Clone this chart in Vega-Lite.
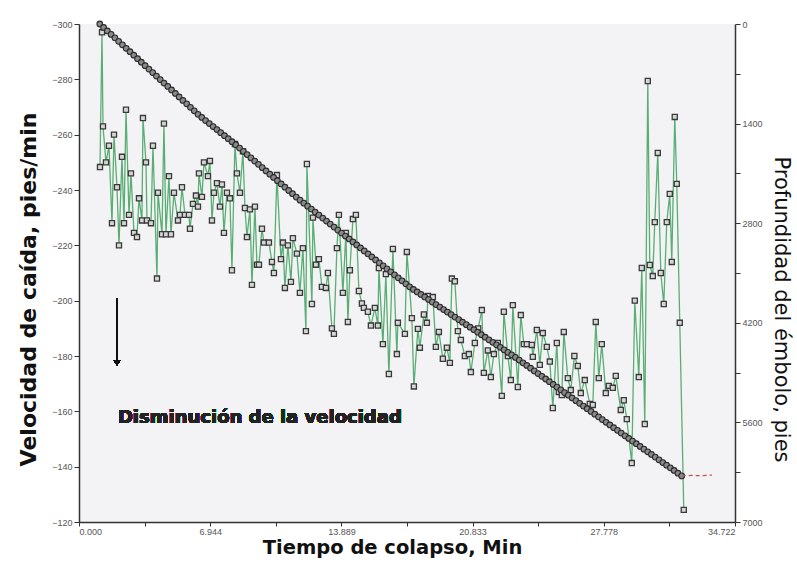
{
  "$schema": "https://vega.github.io/schema/vega-lite/v6.json",
  "width": 656,
  "height": 498,
  "autosize": "none",
  "padding": {"left": 79, "top": 24, "right": 62, "bottom": 43},
  "background": "#ffffff",
  "config": {
    "view": {"fill": "#f3f3f5", "stroke": null},
    "axis": {
      "grid": false,
      "domainColor": "#333333",
      "domainWidth": 1.5,
      "tickColor": "#333333",
      "tickSize": 5,
      "labelFont": "Liberation Sans",
      "labelFontSize": 9,
      "labelColor": "#555555",
      "titleFont": "DejaVu Sans",
      "titleFontWeight": "bold",
      "titleColor": "#111111",
      "titleFontSize": 22
    }
  },
  "datasets": {
    "vel": [
      {"t": 1.111, "v": -248.3}, {"t": 1.217, "v": -297}, {"t": 1.270, "v": -263}, {"t": 1.429, "v": -250},
      {"t": 1.587, "v": -256}, {"t": 1.746, "v": -228}, {"t": 1.852, "v": -260}, {"t": 2.011, "v": -241},
      {"t": 2.116, "v": -220}, {"t": 2.275, "v": -252}, {"t": 2.381, "v": -228}, {"t": 2.487, "v": -269},
      {"t": 2.646, "v": -231}, {"t": 2.751, "v": -246}, {"t": 2.910, "v": -224.5}, {"t": 3.069, "v": -223},
      {"t": 3.175, "v": -237}, {"t": 3.333, "v": -229}, {"t": 3.386, "v": -266}, {"t": 3.545, "v": -250},
      {"t": 3.598, "v": -229}, {"t": 3.810, "v": -228}, {"t": 3.915, "v": -256}, {"t": 4.127, "v": -208},
      {"t": 4.180, "v": -239}, {"t": 4.392, "v": -224}, {"t": 4.497, "v": -264}, {"t": 4.603, "v": -224},
      {"t": 4.762, "v": -245}, {"t": 4.868, "v": -224}, {"t": 5.026, "v": -239}, {"t": 5.238, "v": -229},
      {"t": 5.344, "v": -231}, {"t": 5.450, "v": -241}, {"t": 5.608, "v": -231}, {"t": 5.820, "v": -231},
      {"t": 5.873, "v": -226}, {"t": 6.032, "v": -235}, {"t": 6.190, "v": -238}, {"t": 6.296, "v": -234},
      {"t": 6.349, "v": -246}, {"t": 6.508, "v": -237.5}, {"t": 6.614, "v": -250}, {"t": 6.825, "v": -245},
      {"t": 6.931, "v": -250.5}, {"t": 7.037, "v": -229}, {"t": 7.143, "v": -239}, {"t": 7.302, "v": -242.5},
      {"t": 7.460, "v": -234}, {"t": 7.566, "v": -242}, {"t": 7.672, "v": -224.5}, {"t": 7.831, "v": -239},
      {"t": 7.989, "v": -237}, {"t": 8.095, "v": -211}, {"t": 8.254, "v": -256.6}, {"t": 8.360, "v": -246},
      {"t": 8.519, "v": -239}, {"t": 8.677, "v": -254}, {"t": 8.783, "v": -233.5}, {"t": 8.889, "v": -223},
      {"t": 9.048, "v": -233}, {"t": 9.153, "v": -205.7}, {"t": 9.312, "v": -234}, {"t": 9.418, "v": -213},
      {"t": 9.524, "v": -213}, {"t": 9.683, "v": -226}, {"t": 9.788, "v": -221}, {"t": 10.053, "v": -221},
      {"t": 10.212, "v": -214}, {"t": 10.317, "v": -210}, {"t": 10.476, "v": -245.4}, {"t": 10.688, "v": -215},
      {"t": 10.794, "v": -221}, {"t": 10.899, "v": -204.6}, {"t": 11.058, "v": -220}, {"t": 11.217, "v": -206.8},
      {"t": 11.323, "v": -222.6}, {"t": 11.534, "v": -217}, {"t": 11.693, "v": -202.8}, {"t": 11.852, "v": -219},
      {"t": 12.011, "v": -189}, {"t": 12.063, "v": -249.4}, {"t": 12.328, "v": -198.8}, {"t": 12.381, "v": -230},
      {"t": 12.540, "v": -213}, {"t": 12.698, "v": -215}, {"t": 12.857, "v": -205}, {"t": 13.069, "v": -204.6},
      {"t": 13.175, "v": -210}, {"t": 13.386, "v": -190}, {"t": 13.492, "v": -188}, {"t": 13.651, "v": -219},
      {"t": 13.757, "v": -231}, {"t": 13.968, "v": -202.8}, {"t": 14.127, "v": -224.5}, {"t": 14.233, "v": -192.3},
      {"t": 14.339, "v": -211}, {"t": 14.497, "v": -229.5}, {"t": 14.656, "v": -231}, {"t": 14.815, "v": -203.5},
      {"t": 14.974, "v": -199}, {"t": 15.079, "v": -197.4}, {"t": 15.291, "v": -196}, {"t": 15.450, "v": -191},
      {"t": 15.661, "v": -197.4}, {"t": 15.820, "v": -191}, {"t": 15.873, "v": -211.8}, {"t": 16.085, "v": -184.3},
      {"t": 16.243, "v": -209.6}, {"t": 16.402, "v": -173.5}, {"t": 16.614, "v": -218.7}, {"t": 16.825, "v": -180.7},
      {"t": 16.878, "v": -192}, {"t": 17.249, "v": -188}, {"t": 17.354, "v": -217.6}, {"t": 17.619, "v": -193.7},
      {"t": 17.725, "v": -169}, {"t": 17.937, "v": -189.8}, {"t": 18.042, "v": -183}, {"t": 18.254, "v": -195},
      {"t": 18.413, "v": -192}, {"t": 18.466, "v": -201.7}, {"t": 18.730, "v": -201.3}, {"t": 18.889, "v": -183.3},
      {"t": 19.048, "v": -188.7}, {"t": 19.259, "v": -179}, {"t": 19.471, "v": -183}, {"t": 19.630, "v": -177.5},
      {"t": 19.735, "v": -208}, {"t": 19.894, "v": -207}, {"t": 20.053, "v": -189}, {"t": 20.212, "v": -185.8},
      {"t": 20.423, "v": -180}, {"t": 20.635, "v": -180.7}, {"t": 20.741, "v": -174.2}, {"t": 20.952, "v": -184.7},
      {"t": 21.130, "v": -190}, {"t": 21.323, "v": -196.6}, {"t": 21.429, "v": -173.9}, {"t": 21.640, "v": -182},
      {"t": 21.799, "v": -172.4}, {"t": 21.958, "v": -180.7}, {"t": 22.169, "v": -184.7}, {"t": 22.381, "v": -165.6},
      {"t": 22.487, "v": -196}, {"t": 22.700, "v": -180}, {"t": 22.857, "v": -171.3}, {"t": 22.963, "v": -198.4},
      {"t": 23.228, "v": -168.8}, {"t": 23.386, "v": -194.8}, {"t": 23.545, "v": -184.3}, {"t": 23.704, "v": -184.3},
      {"t": 23.968, "v": -184}, {"t": 24.021, "v": -179.7}, {"t": 24.233, "v": -189.4}, {"t": 24.392, "v": -176.8},
      {"t": 24.550, "v": -188.3}, {"t": 24.762, "v": -183.3}, {"t": 24.920, "v": -178}, {"t": 25.079, "v": -161.2},
      {"t": 25.291, "v": -184.7}, {"t": 25.397, "v": -167}, {"t": 25.556, "v": -165.9}, {"t": 25.661, "v": -188.7},
      {"t": 25.873, "v": -172}, {"t": 26.032, "v": -167.7}, {"t": 26.220, "v": -180}, {"t": 26.402, "v": -176.4},
      {"t": 26.561, "v": -166.6}, {"t": 26.772, "v": -171.3}, {"t": 27.037, "v": -162.7}, {"t": 27.196, "v": -162.3},
      {"t": 27.354, "v": -192.3}, {"t": 27.513, "v": -172}, {"t": 27.672, "v": -184.3}, {"t": 27.884, "v": -166.6},
      {"t": 28.042, "v": -169.2}, {"t": 28.254, "v": -168.5}, {"t": 28.413, "v": -172.8}, {"t": 28.677, "v": -160.5},
      {"t": 28.836, "v": -164}, {"t": 28.995, "v": -157.2}, {"t": 29.259, "v": -141.3}, {"t": 29.418, "v": -200},
      {"t": 29.630, "v": -172.4}, {"t": 29.788, "v": -211.8}, {"t": 29.947, "v": -155.4}, {"t": 30.106, "v": -279.4},
      {"t": 30.212, "v": -212.9}, {"t": 30.370, "v": -208.9}, {"t": 30.476, "v": -228.4}, {"t": 30.635, "v": -253.4},
      {"t": 30.794, "v": -210}, {"t": 30.952, "v": -198.8}, {"t": 31.111, "v": -228.4}, {"t": 31.270, "v": -238.6},
      {"t": 31.376, "v": -214}, {"t": 31.534, "v": -266.4}, {"t": 31.640, "v": -242.2}, {"t": 31.799, "v": -192},
      {"t": 32.011, "v": -124.4}
    ],
    "depth": [
      {"t": 1.1, "d": 0}, {"t": 1.3, "d": 49}, {"t": 1.5, "d": 98}, {"t": 1.7, "d": 146}, {"t": 1.9, "d": 195},
      {"t": 2.1, "d": 244}, {"t": 2.3, "d": 293}, {"t": 2.5, "d": 342}, {"t": 2.7, "d": 390}, {"t": 2.9, "d": 439},
      {"t": 3.1, "d": 488}, {"t": 3.3, "d": 537}, {"t": 3.5, "d": 586}, {"t": 3.7, "d": 634}, {"t": 3.9, "d": 683},
      {"t": 4.1, "d": 732}, {"t": 4.3, "d": 781}, {"t": 4.5, "d": 830}, {"t": 4.7, "d": 878}, {"t": 4.9, "d": 927},
      {"t": 5.1, "d": 976}, {"t": 5.3, "d": 1025}, {"t": 5.5, "d": 1074}, {"t": 5.7, "d": 1122}, {"t": 5.9, "d": 1171},
      {"t": 6.1, "d": 1220}, {"t": 6.3, "d": 1269}, {"t": 6.5, "d": 1314}, {"t": 6.7, "d": 1357}, {"t": 6.9, "d": 1399},
      {"t": 7.1, "d": 1442}, {"t": 7.3, "d": 1484}, {"t": 7.5, "d": 1527}, {"t": 7.7, "d": 1570}, {"t": 7.9, "d": 1612},
      {"t": 8.1, "d": 1655}, {"t": 8.3, "d": 1698}, {"t": 8.5, "d": 1744}, {"t": 8.7, "d": 1790}, {"t": 8.9, "d": 1836},
      {"t": 9.1, "d": 1882}, {"t": 9.3, "d": 1927}, {"t": 9.5, "d": 1973}, {"t": 9.7, "d": 2019}, {"t": 9.9, "d": 2065},
      {"t": 10.1, "d": 2111}, {"t": 10.3, "d": 2157}, {"t": 10.5, "d": 2203}, {"t": 10.7, "d": 2248}, {"t": 10.9, "d": 2294},
      {"t": 11.1, "d": 2340}, {"t": 11.3, "d": 2386}, {"t": 11.5, "d": 2432}, {"t": 11.7, "d": 2476}, {"t": 11.9, "d": 2518},
      {"t": 12.1, "d": 2560}, {"t": 12.3, "d": 2602}, {"t": 12.5, "d": 2644}, {"t": 12.7, "d": 2686}, {"t": 12.9, "d": 2728},
      {"t": 13.1, "d": 2770}, {"t": 13.3, "d": 2812}, {"t": 13.5, "d": 2854}, {"t": 13.7, "d": 2896}, {"t": 13.9, "d": 2938},
      {"t": 14.1, "d": 2980}, {"t": 14.3, "d": 3022}, {"t": 14.5, "d": 3064}, {"t": 14.7, "d": 3106}, {"t": 14.9, "d": 3148},
      {"t": 15.1, "d": 3190}, {"t": 15.3, "d": 3232}, {"t": 15.5, "d": 3274}, {"t": 15.7, "d": 3316}, {"t": 15.9, "d": 3358},
      {"t": 16.1, "d": 3400}, {"t": 16.3, "d": 3442}, {"t": 16.5, "d": 3484}, {"t": 16.7, "d": 3526}, {"t": 16.9, "d": 3568},
      {"t": 17.1, "d": 3610}, {"t": 17.3, "d": 3652}, {"t": 17.5, "d": 3694}, {"t": 17.7, "d": 3731}, {"t": 17.9, "d": 3766},
      {"t": 18.1, "d": 3801}, {"t": 18.3, "d": 3837}, {"t": 18.5, "d": 3872}, {"t": 18.7, "d": 3908}, {"t": 18.9, "d": 3943},
      {"t": 19.1, "d": 3978}, {"t": 19.3, "d": 4014}, {"t": 19.5, "d": 4049}, {"t": 19.7, "d": 4085}, {"t": 19.9, "d": 4120},
      {"t": 20.1, "d": 4155}, {"t": 20.3, "d": 4191}, {"t": 20.5, "d": 4226}, {"t": 20.7, "d": 4262}, {"t": 20.9, "d": 4297},
      {"t": 21.1, "d": 4332}, {"t": 21.3, "d": 4368}, {"t": 21.5, "d": 4403}, {"t": 21.7, "d": 4439}, {"t": 21.9, "d": 4474},
      {"t": 22.1, "d": 4509}, {"t": 22.3, "d": 4545}, {"t": 22.5, "d": 4580}, {"t": 22.7, "d": 4616}, {"t": 22.9, "d": 4651},
      {"t": 23.1, "d": 4686}, {"t": 23.3, "d": 4724}, {"t": 23.5, "d": 4762}, {"t": 23.7, "d": 4800}, {"t": 23.9, "d": 4838},
      {"t": 24.1, "d": 4876}, {"t": 24.3, "d": 4914}, {"t": 24.5, "d": 4952}, {"t": 24.7, "d": 4990}, {"t": 24.9, "d": 5028},
      {"t": 25.1, "d": 5066}, {"t": 25.3, "d": 5104}, {"t": 25.5, "d": 5142}, {"t": 25.7, "d": 5180}, {"t": 25.9, "d": 5218},
      {"t": 26.1, "d": 5256}, {"t": 26.3, "d": 5294}, {"t": 26.5, "d": 5332}, {"t": 26.7, "d": 5370}, {"t": 26.9, "d": 5408},
      {"t": 27.1, "d": 5446}, {"t": 27.3, "d": 5484}, {"t": 27.5, "d": 5522}, {"t": 27.7, "d": 5560}, {"t": 27.9, "d": 5598},
      {"t": 28.1, "d": 5636}, {"t": 28.3, "d": 5674}, {"t": 28.5, "d": 5712}, {"t": 28.7, "d": 5750}, {"t": 28.9, "d": 5788},
      {"t": 29.1, "d": 5825}, {"t": 29.3, "d": 5863}, {"t": 29.5, "d": 5900}, {"t": 29.7, "d": 5938}, {"t": 29.9, "d": 5976},
      {"t": 30.1, "d": 6013}, {"t": 30.3, "d": 6051}, {"t": 30.5, "d": 6088}, {"t": 30.7, "d": 6126}, {"t": 30.9, "d": 6164},
      {"t": 31.1, "d": 6201}, {"t": 31.3, "d": 6239}, {"t": 31.5, "d": 6276}, {"t": 31.7, "d": 6314}, {"t": 31.9, "d": 6352}
    ],
    "tail": [
      {"t": 31.9, "d": 6352}, {"t": 32.4, "d": 6345}, {"t": 32.9, "d": 6350}, {"t": 33.5, "d": 6340}
    ]
  },
  "layer": [
    {
      "data": {"name": "vel"},
      "layer": [
        {
          "mark": {"type": "line", "color": "#5aae73", "strokeWidth": 1.3},
          "encoding": {
            "x": {
              "field": "t", "type": "quantitative",
              "scale": {"domain": [0, 34.722], "nice": false, "zero": false},
              "axis": {
                "title": "Tiempo de colapso, Min",
                "titleFontSize": 19.5,
                "titlePadding": 2,
                "titleX": 313,
                "values": [0, 3.4722, 6.9444, 10.4166, 13.8888, 17.361, 20.8332, 24.3054, 27.7776, 31.2498, 34.722],
                "format": ".3f",
                "labelExpr": "abs(datum.value / 6.9444 - round(datum.value / 6.9444)) < 0.01 ? datum.label : ''",
                "labelPadding": 1,
                "tickSize": 4
              }
            },
            "y": {
              "field": "v", "type": "quantitative",
              "scale": {"domain": [-300, -120], "reverse": true, "nice": false, "zero": false},
              "axis": {
                "title": "Velocidad de caída, pies/min",
                "values": [-300, -290, -280, -270, -260, -250, -240, -230, -220, -210, -200, -190, -180, -170, -160, -150, -140, -130, -120],
                "labelExpr": "datum.value % 20 == 0 ? datum.label : ''",
                "titlePadding": 11,
                "titleY": 265
              }
            }
          }
        },
        {
          "mark": {"type": "point", "shape": "square", "filled": true, "fill": "#d6d6d6", "stroke": "#3a3a3a", "strokeWidth": 1.3, "size": 26, "opacity": 1},
          "encoding": {
            "x": {"field": "t", "type": "quantitative"},
            "y": {"field": "v", "type": "quantitative", "title": "Velocidad de caída, pies/min"}
          }
        },
        {
          "mark": {"type": "text", "text": "Disminución de la velocidad", "align": "left", "baseline": "middle", "font": "DejaVu Sans", "fontSize": 18, "fontWeight": "bold", "color": "#222222"},
          "encoding": {
            "x": {"datum": 2.06},
            "y": {"datum": -157.6}
          }
        },
        {
          "mark": {"type": "rule", "color": "#111111", "strokeWidth": 1.5},
          "encoding": {
            "x": {"datum": 2.01},
            "y": {"datum": -201},
            "y2": {"datum": -178}
          }
        },
        {
          "mark": {"type": "point", "shape": "triangle-down", "filled": true, "color": "#111111", "size": 45, "opacity": 1},
          "encoding": {
            "x": {"datum": 2.01},
            "y": {"datum": -177.5}
          }
        }
      ]
    },
    {
      "layer": [
        {
          "data": {"name": "depth"},
          "mark": {"type": "point", "shape": "circle", "filled": true, "fill": "#8a8a8a", "stroke": "#2a2a2a", "strokeWidth": 1.1, "size": 32, "opacity": 1},
          "encoding": {
            "x": {"field": "t", "type": "quantitative"},
            "y": {
              "field": "d", "type": "quantitative",
              "scale": {"domain": [0, 7000], "reverse": true, "nice": false, "zero": false},
              "axis": {
                "orient": "right",
                "title": "Profundidad del émbolo, pies",
                "titleFontWeight": "normal",
                "titleFontSize": 21,
                "values": [0, 700, 1400, 2100, 2800, 3500, 4200, 4900, 5600, 6300, 7000],
                "labelExpr": "datum.value % 1400 == 0 ? datum.label : ''",
                "format": "d",
                "titlePadding": 8,
                "titleY": 285
              }
            }
          }
        },
        {
          "data": {"name": "tail"},
          "mark": {"type": "line", "color": "#c0504d", "strokeWidth": 1.2, "strokeDash": [4, 3]},
          "encoding": {
            "x": {"field": "t", "type": "quantitative"},
            "y": {"field": "d", "type": "quantitative"}
          }
        }
      ]
    }
  ],
  "resolve": {"scale": {"y": "independent"}}
}
